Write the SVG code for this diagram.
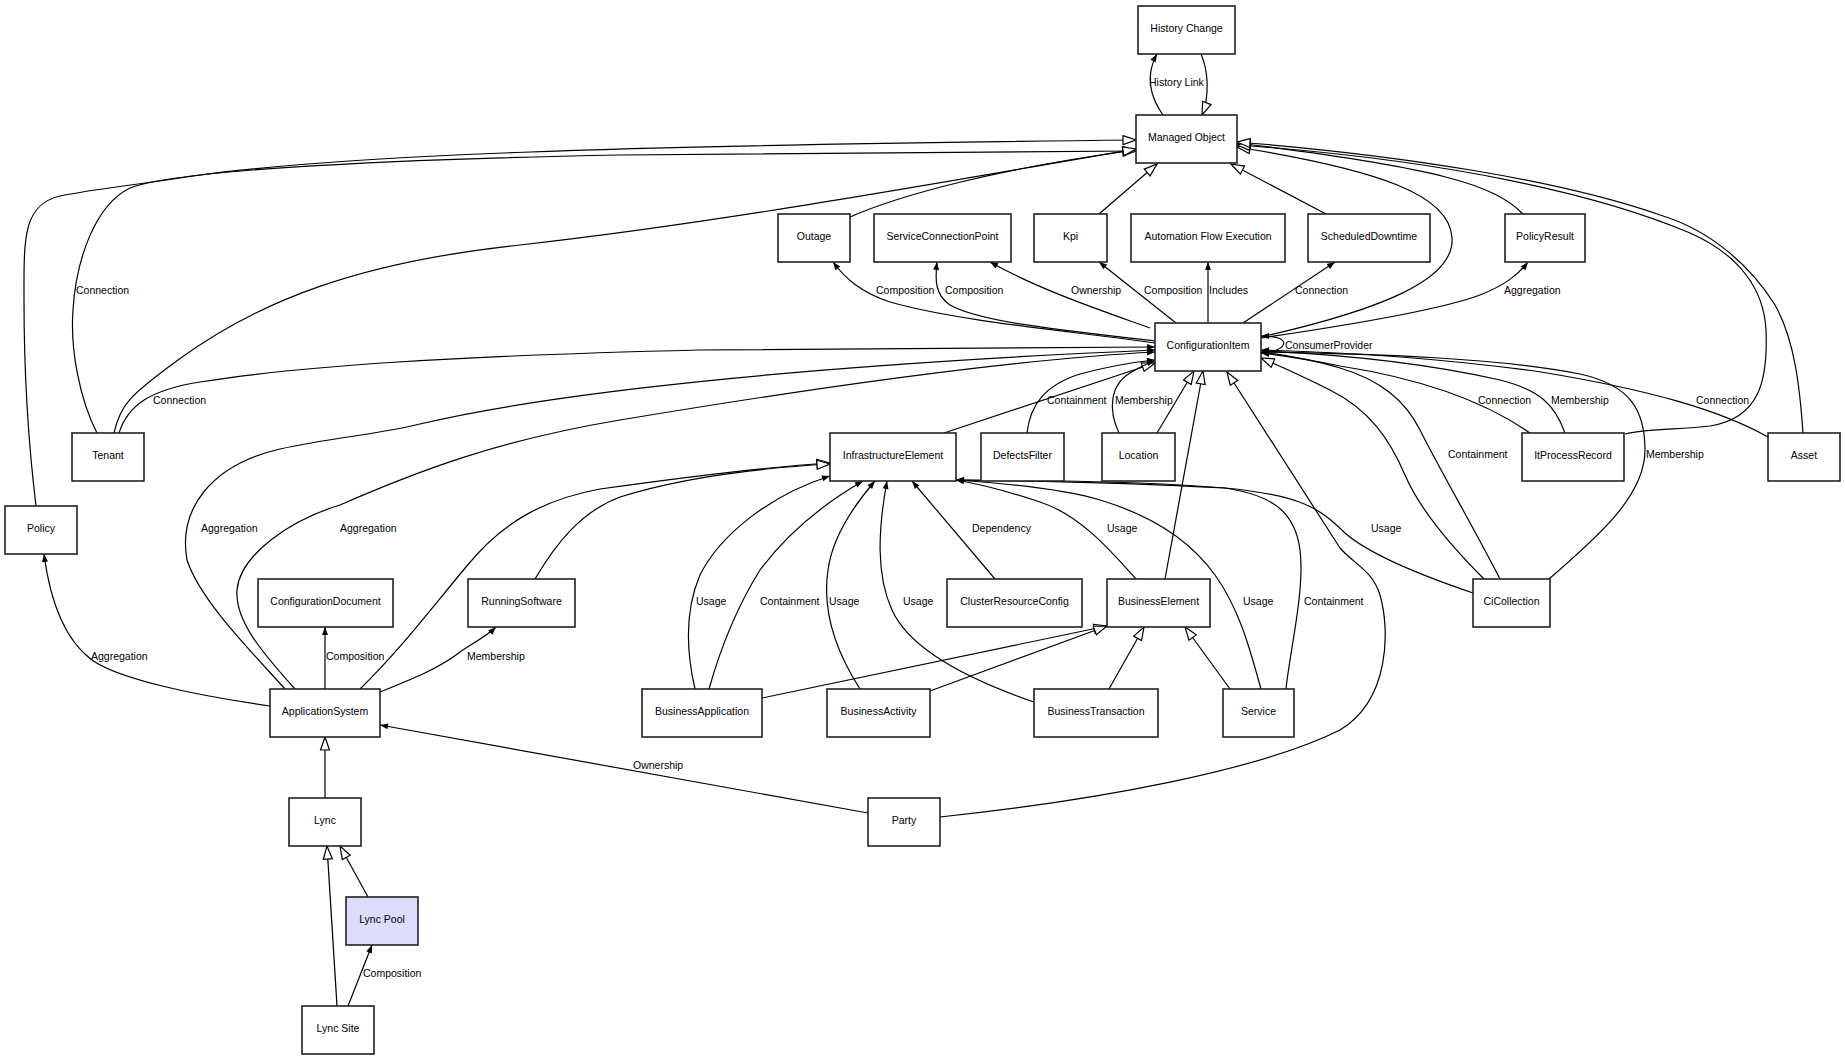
<svg xmlns="http://www.w3.org/2000/svg" width="1845" height="1060" viewBox="0 0 1845 1060">
<style>
.n rect{fill:#fff;stroke:#222;stroke-width:1.6}
.n text{font-family:"Liberation Sans",Arial,sans-serif;font-size:10.5px;fill:#000;text-anchor:middle;transform:translate(0px,-1.5px)}
.e path{fill:none;stroke:#000;stroke-width:1.2}
.e .g{marker-end:url(#tri)}
.e .a{marker-end:url(#arr)}
.l text{font-family:"Liberation Sans",Arial,sans-serif;font-size:10.5px;fill:#000;transform:translate(0px,-1px)}
</style>
<defs>
<marker id="tri" markerUnits="userSpaceOnUse" markerWidth="16" markerHeight="12" refX="13" refY="4.5" orient="auto" overflow="visible"><path d="M0,0 L13,4.5 L0,9 Z" fill="#fff" stroke="#000" stroke-width="1.2"/></marker>
<marker id="arr" markerUnits="userSpaceOnUse" markerWidth="10" markerHeight="8" refX="8" refY="3" orient="auto" overflow="visible"><path d="M0,0 L8,3 L0,6 Z" fill="#000"/></marker>
</defs>
<rect width="1845" height="1060" fill="#fff"/>
<g class="e" id="connectors">
<path class="a" d="M1163,115 C1150,97 1145,75 1157,54"/>
<path class="g" d="M1201,54 C1208,70 1210,95 1202,115"/>
<path class="g" d="M850,217 C900,195 1000,168 1136,150"/>
<path class="g" d="M1099,214 L1157,164"/>
<path class="g" d="M1326,214 L1231,164"/>
<path class="g" d="M1523,214 C1495,185 1440,168 1237,143"/>
<path class="g" d="M1261,337 C1380,310 1455,280 1452,238 C1450,195 1380,170 1237,147"/>
<path class="g" d="M36,506 C28,440 24,380 24,300 C24,240 22,205 60,196 C100,188 130,186 200,175 C350,155 600,146 1136,140"/>
<path class="g" d="M97,433 C80,400 70,350 73,310 C76,260 95,205 130,188 C170,172 350,160 620,155 L1136,151"/>
<path class="g" d="M114,433 C120,405 130,395 178,360 C260,300 360,262 520,245 C700,225 900,190 1136,149"/>
<path class="a" d="M119,433 C128,405 150,390 200,382 C300,366 450,356 700,350 L1155,347"/>
<path class="a" d="M285,689 C250,650 200,600 187,560 C178,510 210,465 280,449 C330,438 380,434 420,424 C500,405 700,370 1155,350"/>
<path class="a" d="M295,689 C260,650 235,620 237,590 C240,555 290,520 340,505 C420,470 500,440 620,420 C800,390 1000,360 1155,352"/>
<path class="g" d="M944,433 L1155,363"/>
<path class="a" d="M1027,433 C1030,405 1045,385 1080,374 C1110,366 1135,362 1155,360"/>
<path class="a" d="M1119,433 C1108,410 1110,385 1130,373 C1140,367 1148,363 1155,361"/>
<path class="g" d="M1157,433 L1194,371"/>
<path class="g" d="M1165,579 L1203,371"/>
<path class="g" d="M940,817 C1100,800 1260,770 1340,730 C1390,700 1390,630 1380,595 C1372,570 1355,565 1340,548 L1227,372"/>
<path class="a" d="M1530,433 C1490,405 1430,380 1340,366 C1310,360 1285,356 1261,353"/>
<path class="a" d="M1565,433 C1555,405 1540,390 1500,380 C1420,362 1330,354 1261,351"/>
<path class="g" d="M1625,434 C1650,428 1680,430 1710,426 C1760,418 1768,380 1766,330 C1764,290 1740,255 1690,233 C1600,195 1450,160 1237,145"/>
<path class="g" d="M1803,433 C1800,390 1795,340 1775,305 C1750,265 1710,230 1660,215 C1560,180 1400,155 1237,142"/>
<path class="a" d="M1768,437 C1720,410 1650,390 1541,372 C1440,358 1340,352 1261,350"/>
<path class="g" d="M1484,579 C1450,545 1420,510 1405,475 C1390,440 1370,410 1330,390 C1300,375 1280,366 1261,358"/>
<path class="a" d="M1500,579 C1475,530 1440,470 1420,430 C1405,400 1380,380 1340,368 C1310,359 1285,355 1261,352"/>
<path class="a" d="M1549,579 C1600,535 1645,495 1645,450 C1645,410 1630,385 1580,374 C1500,358 1380,354 1261,352"/>
<path class="a" d="M1473,593 C1420,575 1370,555 1345,533 C1320,508 1300,495 1225,488 C1150,484 1050,481 956,480"/>
<path class="g" d="M360,689 C400,650 430,610 466,567 C500,525 540,500 600,489 C700,475 780,466 830,463"/>
<path class="g" d="M535,579 C555,545 580,512 620,497 C680,478 760,468 830,464"/>
<path class="a" d="M695,689 C686,650 685,610 700,575 C720,535 770,495 830,476"/>
<path class="a" d="M709,689 C720,650 735,610 760,570 C790,530 830,500 863,481"/>
<path class="a" d="M860,689 C835,650 822,610 828,570 C832,540 850,510 875,481"/>
<path class="a" d="M1034,702 C970,680 910,650 892,610 C876,575 878,530 887,481"/>
<path class="a" d="M995,579 L912,481"/>
<path class="a" d="M1136,579 C1110,550 1080,515 1040,502 C1010,492 985,485 956,480"/>
<path class="a" d="M1261,689 C1250,650 1240,610 1215,575 C1190,540 1150,515 1100,500 C1060,488 1000,483 956,480"/>
<path class="a" d="M1286,689 C1290,650 1305,590 1300,550 C1295,510 1270,495 1225,488 C1150,482 1050,480 956,480"/>
<path class="g" d="M762,698 L1107,626"/>
<path class="g" d="M930,691 L1107,626"/>
<path class="g" d="M1109,689 L1144,627"/>
<path class="g" d="M1230,689 L1185,627"/>
<path class="a" d="M270,706 C200,696 120,680 92,660 C65,640 50,600 44,554"/>
<path class="a" d="M325,689 L325,627"/>
<path class="a" d="M380,692 C410,680 440,668 460,652 C475,642 488,635 496,627"/>
<path class="g" d="M325,798 L325,737"/>
<path class="g" d="M368,897 L340,846"/>
<path class="g" d="M337,1006 L327,846"/>
<path class="a" d="M348,1006 L372,945"/>
<path class="a" d="M868,813 L380,725"/>
<path class="a" d="M1155,343 C1080,332 960,322 890,302 C860,292 845,278 833,262"/>
<path class="a" d="M1155,341 C1060,330 980,322 950,305 C935,295 935,280 937,262"/>
<path class="a" d="M1150,328 C1100,310 1040,290 990,262"/>
<path class="a" d="M1176,323 L1099,262"/>
<path class="a" d="M1208,323 L1208,262"/>
<path class="a" d="M1243,323 L1335,262"/>
<path class="a" d="M1261,338 C1350,325 1440,310 1480,295 C1505,285 1518,275 1528,262"/>
<path class="a" d="M1261,353 C1280,352 1286,345 1283,341 C1280,337 1272,336 1261,336"/>
</g>
<g class="l" id="edge-labels">
<text x="1149" y="87">History Link</text>
<text x="76" y="295">Connection</text>
<text x="153" y="405">Connection</text>
<text x="201" y="533">Aggregation</text>
<text x="340" y="533">Aggregation</text>
<text x="1047" y="405">Containment</text>
<text x="1115" y="405">Membership</text>
<text x="1478" y="405">Connection</text>
<text x="1551" y="405">Membership</text>
<text x="1696" y="405">Connection</text>
<text x="1448" y="459">Containment</text>
<text x="1646" y="459">Membership</text>
<text x="1371" y="533">Usage</text>
<text x="696" y="606">Usage</text>
<text x="760" y="606">Containment</text>
<text x="829" y="606">Usage</text>
<text x="903" y="606">Usage</text>
<text x="972" y="533">Dependency</text>
<text x="1107" y="533">Usage</text>
<text x="1243" y="606">Usage</text>
<text x="1304" y="606">Containment</text>
<text x="91" y="661">Aggregation</text>
<text x="326" y="661">Composition</text>
<text x="467" y="661">Membership</text>
<text x="363" y="978">Composition</text>
<text x="633" y="770">Ownership</text>
<text x="876" y="295">Composition</text>
<text x="945" y="295">Composition</text>
<text x="1071" y="295">Ownership</text>
<text x="1144" y="295">Composition</text>
<text x="1209" y="295">Includes</text>
<text x="1295" y="295">Connection</text>
<text x="1504" y="295">Aggregation</text>
<text x="1285" y="350">ConsumerProvider</text>
</g>
<g class="n" id="HistoryChange"><rect x="1138" y="6" width="97" height="48"/><text x="1186.5" y="33.7">History Change</text></g>
<g class="n" id="ManagedObject"><rect x="1136" y="115" width="101" height="48"/><text x="1186.5" y="142.7">Managed Object</text></g>
<g class="n" id="Outage"><rect x="778" y="214" width="72" height="48"/><text x="814" y="241.7">Outage</text></g>
<g class="n" id="ServiceConnectionPoint"><rect x="874" y="214" width="137" height="48"/><text x="942.5" y="241.7">ServiceConnectionPoint</text></g>
<g class="n" id="Kpi"><rect x="1034" y="214" width="73" height="48"/><text x="1070.5" y="241.7">Kpi</text></g>
<g class="n" id="AutomationFlowExecution"><rect x="1131" y="214" width="154" height="48"/><text x="1208" y="241.7">Automation Flow Execution</text></g>
<g class="n" id="ScheduledDowntime"><rect x="1308" y="214" width="122" height="48"/><text x="1369" y="241.7">ScheduledDowntime</text></g>
<g class="n" id="PolicyResult"><rect x="1505" y="214" width="80" height="48"/><text x="1545" y="241.7">PolicyResult</text></g>
<g class="n" id="ConfigurationItem"><rect x="1155" y="323" width="106" height="48"/><text x="1208" y="350.7">ConfigurationItem</text></g>
<g class="n" id="Tenant"><rect x="72" y="433" width="72" height="48"/><text x="108" y="460.7">Tenant</text></g>
<g class="n" id="InfrastructureElement"><rect x="830" y="433" width="126" height="48"/><text x="893" y="460.7">InfrastructureElement</text></g>
<g class="n" id="DefectsFilter"><rect x="981" y="433" width="83" height="48"/><text x="1022.5" y="460.7">DefectsFilter</text></g>
<g class="n" id="Location"><rect x="1102" y="433" width="73" height="48"/><text x="1138.5" y="460.7">Location</text></g>
<g class="n" id="ItProcessRecord"><rect x="1522" y="433" width="102" height="48"/><text x="1573" y="460.7">ItProcessRecord</text></g>
<g class="n" id="Asset"><rect x="1768" y="433" width="72" height="48"/><text x="1804" y="460.7">Asset</text></g>
<g class="n" id="Policy"><rect x="5" y="506" width="72" height="48"/><text x="41" y="533.7">Policy</text></g>
<g class="n" id="ConfigurationDocument"><rect x="258" y="579" width="135" height="48"/><text x="325.5" y="606.7">ConfigurationDocument</text></g>
<g class="n" id="RunningSoftware"><rect x="468" y="579" width="107" height="48"/><text x="521.5" y="606.7">RunningSoftware</text></g>
<g class="n" id="ClusterResourceConfig"><rect x="947" y="579" width="135" height="48"/><text x="1014.5" y="606.7">ClusterResourceConfig</text></g>
<g class="n" id="BusinessElement"><rect x="1107" y="579" width="103" height="48"/><text x="1158.5" y="606.7">BusinessElement</text></g>
<g class="n" id="CiCollection"><rect x="1473" y="579" width="77" height="48"/><text x="1511.5" y="606.7">CiCollection</text></g>
<g class="n" id="ApplicationSystem"><rect x="270" y="689" width="110" height="48"/><text x="325" y="716.7">ApplicationSystem</text></g>
<g class="n" id="BusinessApplication"><rect x="642" y="689" width="120" height="48"/><text x="702" y="716.7">BusinessApplication</text></g>
<g class="n" id="BusinessActivity"><rect x="827" y="689" width="103" height="48"/><text x="878.5" y="716.7">BusinessActivity</text></g>
<g class="n" id="BusinessTransaction"><rect x="1034" y="689" width="124" height="48"/><text x="1096" y="716.7">BusinessTransaction</text></g>
<g class="n" id="Service"><rect x="1223" y="689" width="71" height="48"/><text x="1258.5" y="716.7">Service</text></g>
<g class="n" id="Lync"><rect x="289" y="798" width="72" height="48"/><text x="325" y="825.7">Lync</text></g>
<g class="n" id="Party"><rect x="868" y="798" width="72" height="48"/><text x="904" y="825.7">Party</text></g>
<g class="n" id="LyncPool"><rect x="346" y="897" width="72" height="48" style="fill:#dddcfc"/><text x="382" y="924.7">Lync Pool</text></g>
<g class="n" id="LyncSite"><rect x="302" y="1006" width="72" height="48"/><text x="338" y="1033.7">Lync Site</text></g>
</svg>
